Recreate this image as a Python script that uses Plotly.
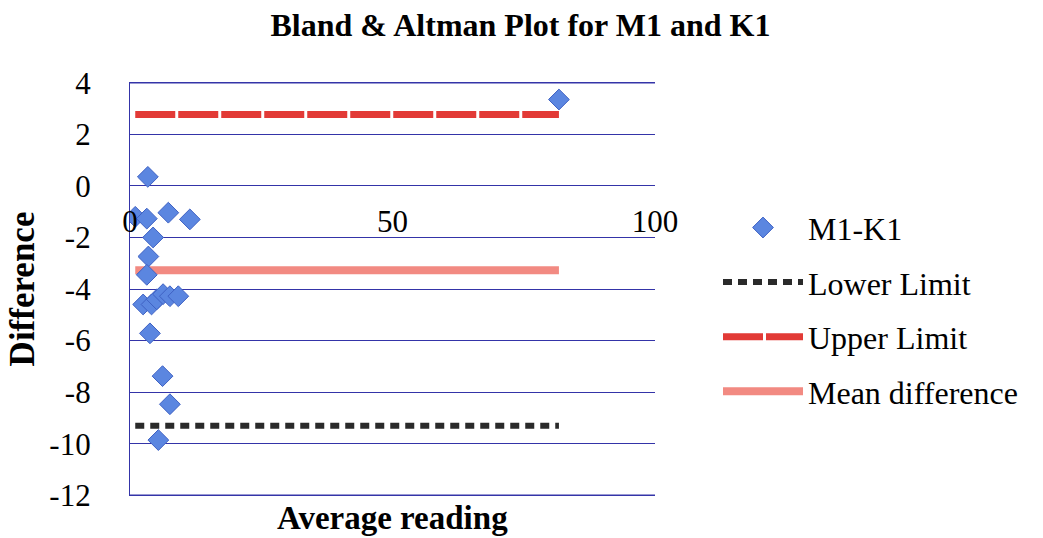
import plotly.graph_objects as go

avg_reading = [1.0, 3.2, 3.4, 7.3, 11.4, 4.4, 3.5, 3.2, 2.5, 4.1, 5.1, 6.3, 7.6, 9.2, 3.8, 6.2, 7.6, 5.4, 81.7]
difference = [-1.2, -1.27, 0.35, -1.04, -1.3, -2.0, -2.74, -3.45, -4.6, -4.6, -4.4, -4.2, -4.28, -4.28, -5.72, -7.38, -8.47, -9.86, 3.35]
lower_limit = -9.3
upper_limit = 2.77
mean_difference = -3.27
x_ticks = [0, 50, 100]
y_ticks = [4, 2, 0, -2, -4, -6, -8, -10, -12]
y_tick_text = ["4", "2", "0", "-2", "-4", "-6", "-8", "-10", "-12"]

FONT = "Liberation Serif, Times New Roman, serif"
GRID = "#3434a8"

x_line = [min(avg_reading), max(avg_reading)]

fig = go.Figure()
fig.add_trace(go.Scatter(x=x_line, y=[lower_limit] * 2, mode="lines", name="Lower Limit",
                         line=dict(color="#2a2a2a", width=6, dash="9px,6px"),
                         legendrank=2, legendgroup="b"))
fig.add_trace(go.Scatter(x=x_line, y=[upper_limit] * 2, mode="lines", name="Upper Limit",
                         line=dict(color="#e23a36", width=7, dash="40px,3px"),
                         legendrank=3, legendgroup="c"))
fig.add_trace(go.Scatter(x=x_line, y=[mean_difference] * 2, mode="lines", name="Mean difference",
                         line=dict(color="#f28a82", width=8),
                         legendrank=4, legendgroup="d"))
fig.add_trace(go.Scatter(x=avg_reading, y=difference, mode="markers", name="M1-K1",
                         marker=dict(symbol="diamond", size=16, color="#5b86e0",
                                     line=dict(color="#3f62c4", width=1)),
                         legendrank=1, legendgroup="a"))

# outer grid lines at the ends of the value axis
for yv in (max(y_ticks), min(y_ticks)):
    fig.add_shape(type="line", xref="paper", x0=0, x1=1, yref="y", y0=yv, y1=yv,
                  line=dict(color=GRID, width=1.3), layer="below")

fig.update_layout(
    width=1043, height=538,
    margin=dict(l=130, r=388, t=82, b=42),
    paper_bgcolor="white", plot_bgcolor="white",
    font=dict(family=FONT, color="black", size=30),
    title=dict(text="<b>Bland &amp; Altman Plot for M1 and K1</b>", x=0.499, xref="container",
               y=1 - 25 / 538, yref="container", yanchor="middle", xanchor="center",
               font=dict(size=32, family=FONT)),
    showlegend=True,
    legend=dict(x=1.12, xanchor="left", y=0.45, yanchor="middle",
                font=dict(size=32, family=FONT), itemwidth=80,
                tracegroupgap=10, bgcolor="rgba(0,0,0,0)"),
    xaxis=dict(range=[0, 100], tickvals=x_ticks, showgrid=False, zeroline=False,
               showline=False, anchor="free", position=0.75, ticks="",
               ticklabelstandoff=14, tickfont=dict(size=31, family=FONT)),
    yaxis=dict(range=[-12.03, 4.03], tickvals=y_ticks, ticktext=y_tick_text,
               showgrid=True, gridcolor=GRID, gridwidth=1.3,
               zeroline=False, showline=True, linecolor=GRID, linewidth=1.3, ticks="",
               ticklabelstandoff=32, tickfont=dict(size=31, family=FONT)),
    annotations=[
        dict(text="<b>Average reading</b>", x=0.5, xref="paper", y=-(518 - 496) / 414,
             yref="paper", yanchor="middle", xanchor="center",
             showarrow=False, font=dict(size=33, family=FONT)),
        dict(text="<b>Difference</b>", x=-0.205, xref="paper", y=0.5, yref="paper",
             xanchor="center", yanchor="middle",
             textangle=-90, showarrow=False, font=dict(size=35, family=FONT)),
    ],
)

fig.write_html("out.html")
